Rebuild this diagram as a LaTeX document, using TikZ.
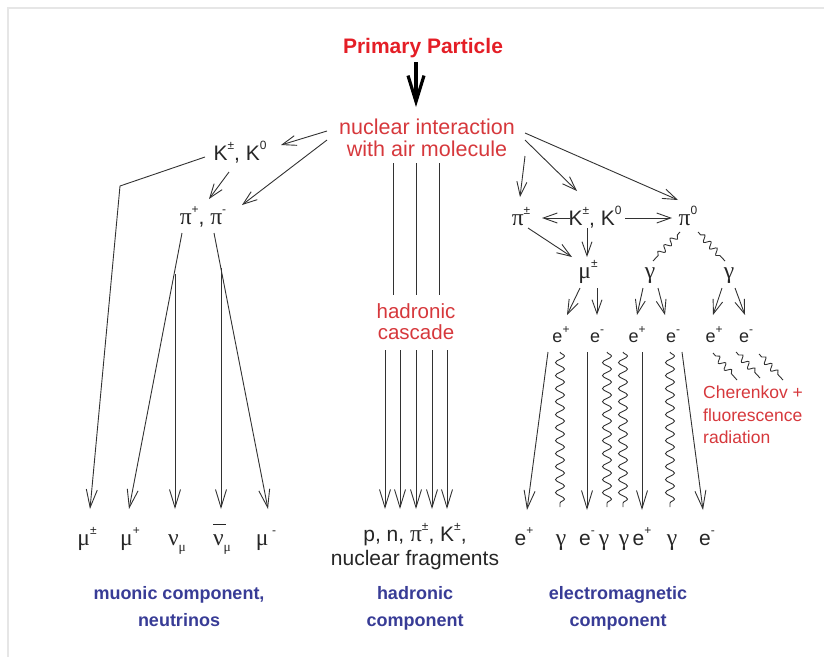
\documentclass[tikz,border=0pt]{standalone}
\usepackage{fontspec}
\setmainfont{Liberation Sans}
\newfontfamily\grk{Liberation Serif}[Scale=1.12]
\usetikzlibrary{arrows.meta,decorations.pathmorphing}
\definecolor{redA}{RGB}{228,30,38}
\definecolor{redB}{RGB}{214,56,60}
\definecolor{blueA}{RGB}{56,60,150}
\definecolor{lineC}{RGB}{50,50,50}
\definecolor{frameC}{RGB}{230,230,230}
\newcommand\sps[1]{\raisebox{0.5em}{\fontsize{12}{12}\selectfont #1}}
\newcommand\sbs[1]{\raisebox{-0.3em}{\fontsize{12}{12}\selectfont #1}}
\newcommand\gk[1]{{\grk #1}}
\newcommand\nubar{\leavevmode\rlap{\raisebox{0.95em}{\rule{0.6em}{0.06em}}}{\grk ν}}
\tikzset{
  lbl/.style={font=\fontsize{21}{24}\selectfont, inner sep=0pt, anchor=base, text=black!85},
  elbl/.style={font=\fontsize{18}{20}\selectfont, inner sep=0pt, anchor=base, text=black!85},
  primlbl/.style={font=\bfseries\fontsize{21}{24}\selectfont, inner sep=0pt, anchor=base, text=redA},
  redlbl/.style={font=\fontsize{21.5}{24}\selectfont, inner sep=0pt, anchor=base, text=redB},
  hadlbl/.style={font=\fontsize{20.5}{22}\selectfont, inner sep=0pt, anchor=base, text=redB},
  cherlbl/.style={font=\fontsize{17.5}{20}\selectfont, inner sep=0pt, anchor=base west, text=redB},
  bluelbl/.style={font=\bfseries\fontsize{18}{20}\selectfont, inner sep=0pt, anchor=base, text=blueA},
  ln/.style={draw=lineC, line width=0.9pt},
  arr/.style={ln, -{Straight Barb[length=14pt,width=10pt]}},
  arrL/.style={ln, -{Straight Barb[length=18pt,width=11pt]}},
  wav/.style={ln, decorate, decoration={snake, amplitude=4.5pt, segment length=13pt}},
  wavS/.style={ln, decorate, decoration={snake, amplitude=3pt, segment length=9pt, pre length=4pt, post length=4pt}},
}
\begin{document}
\begin{tikzpicture}[x=1pt,y=-1pt]
\useasboundingbox (0,0) rectangle (824,657);
\draw[frameC, line width=1.7pt] (8,657) -- (8,8) -- (824,8);

% ---- labels ----
\node[primlbl] (prim) at (423,53) {Primary Particle};
\node[redlbl] (nucA) at (427,134) {nuclear interaction};
\node[redlbl] (nucB) at (427,156) {with air molecule};

\node[lbl] (KL) at (240,160) {K\sps{±}, K\sps{0}};
\node[lbl] (piL) at (203,224) {\gk{π}\sps{+}, \gk{π}\sps{-}};

\node[hadlbl] (hadA) at (416,318) {hadronic};
\node[hadlbl] (hadB) at (416,339) {cascade};

\node[lbl] (piR) at (521,225) {\gk{π}\sps{±}};
\node[lbl] (KR) at (595,225) {K\sps{±}, K\sps{0}};
\node[lbl] (pi0) at (688,225) {\gk{π}\sps{0}};
\node[lbl] (muR) at (588,278) {\gk{μ}\sps{±}};
\node[lbl] (gL) at (650,278) {\gk{γ}};
\node[lbl] (gR) at (729,278) {\gk{γ}};

\node[elbl] (eA) at (561,342) {e\sps{+}};
\node[elbl] (eB) at (597,342) {e\sps{-}};
\node[elbl] (eC) at (637,342) {e\sps{+}};
\node[elbl] (eD) at (673,342) {e\sps{-}};
\node[elbl] (eE) at (714,342) {e\sps{+}};
\node[elbl] (eF) at (746,342) {e\sps{-}};

\node[cherlbl] (cherA) at (703,398) {Cherenkov +};
\node[cherlbl] (cherB) at (703,421) {fluorescence};
\node[cherlbl] (cherC) at (703,443) {radiation};

\node[lbl] (mA) at (87,545) {\gk{μ}\sps{±}};
\node[lbl] (mB) at (130,545) {\gk{μ}\sps{+}};
\node[lbl] (nA) at (177,545) {\gk{ν}\sbs{\grk μ}};
\node[lbl] (nB) at (222,545) {\nubar\sbs{\grk μ}};
\node[lbl] (mC) at (266,545) {\gk{μ}\,\sps{-}};

\node[lbl] (hbA) at (415,541) {p, n, \gk{π}\sps{±}, K\sps{±},};
\node[lbl] (hbB) at (415,565) {nuclear fragments};

\node[lbl] (bA) at (524,545) {e\sps{+}};
\node[lbl] (bB) at (561,545) {\gk{γ}};
\node[lbl] (bC) at (587,545) {e\sps{-}};
\node[lbl] (bD) at (604,545) {\gk{γ}};
\node[lbl] (bE) at (624,545) {\gk{γ}};
\node[lbl] (bF) at (642,545) {e\sps{+}};
\node[lbl] (bG) at (672,545) {\gk{γ}};
\node[lbl] (bH) at (707,545) {e\sps{-}};

\node[bluelbl] (muoA) at (179,599) {muonic component,};
\node[bluelbl] (muoB) at (179,626) {neutrinos};
\node[bluelbl] (hcA) at (415,599) {hadronic};
\node[bluelbl] (hcB) at (415,626) {component};
\node[bluelbl] (emA) at (618,599) {electromagnetic};
\node[bluelbl] (emB) at (618,626) {component};

% ---- coordinates ----
\coordinate (p1) at (416,62);  \coordinate (p2) at (416,107);
\coordinate (n1) at (327,131); \coordinate (k1) at (281,145);
\coordinate (n2) at (327,140); \coordinate (q1) at (242,205);
\coordinate (k2) at (229,172); \coordinate (q2) at (209,199);
\coordinate (k3) at (205,157); \coordinate (kk) at (120,186); \coordinate (tA) at (90,509);
\coordinate (q3) at (182,233); \coordinate (tB) at (129,509);
\coordinate (br1) at (175,274); \coordinate (tC) at (175,509);
\coordinate (q4) at (214,233); \coordinate (tE) at (268,509);
\coordinate (br2) at (221,268); \coordinate (tD) at (221,509);

% ---- primary ----
\draw[line width=3.2pt, black, -{Straight Barb[length=26pt,width=16pt]}] (p1) -- (p2);

% ---- muonic side ----
\draw[arr] (n1) -- (k1);
\draw[arr] (n2) -- (q1);
\draw[arr] (k2) -- (q2);
\draw[arrL] (k3) -- (kk) -- (tA);
\draw[arrL] (q3) -- (tB);
\draw[arrL] (br1) -- (tC);
\draw[arrL] (q4) -- (tE);
\draw[arrL] (br2) -- (tD);

% ---- hadronic ----
\foreach \x in {393,416,439} \draw[ln] (\x,163) -- (\x,295);
\foreach \x in {385,400,416,432,447} \draw[arrL] (\x,350) -- (\x,509);

% ---- electromagnetic ----
\draw[arr] (525,133) -- (678,200);
\draw[arr] (525,140) -- (577,191);
\draw[arr] (525,156) -- (520,197);
\draw[arr] (570,218) -- (542,218);
\draw[arr] (625,218) -- (672,218);
\draw[arr] (587,228) -- (587,257);
\draw[arr] (528,228) -- (572,257);
\draw[wavS] (680,232) -- (653,261);
\draw[wavS] (698,232) -- (725,261);

\draw[arr] (580,288) -- (567,315);
\draw[arr] (597,288) -- (597,315);
\draw[arr] (643,288) -- (637,315);
\draw[arr] (658,288) -- (665,315);
\draw[arr] (722,288) -- (713,315);
\draw[arr] (735,288) -- (745,315);

\draw[wavS] (713,353) -- (737,380);
\draw[wavS] (736,352) -- (760,378);
\draw[wavS] (759,354) -- (783,380);

\draw[arrL] (548,352) -- (527,510);
\draw[wav] (560,352) -- (560,507);
\draw[arrL] (587,352) -- (587,510);
\draw[wav] (607,352) -- (607,507);
\draw[wav] (623,352) -- (623,507);
\draw[arrL] (642,352) -- (642,510);
\draw[wav] (670,352) -- (670,507);
\draw[arrL] (682,352) -- (703,510);
\end{tikzpicture}
\end{document}
